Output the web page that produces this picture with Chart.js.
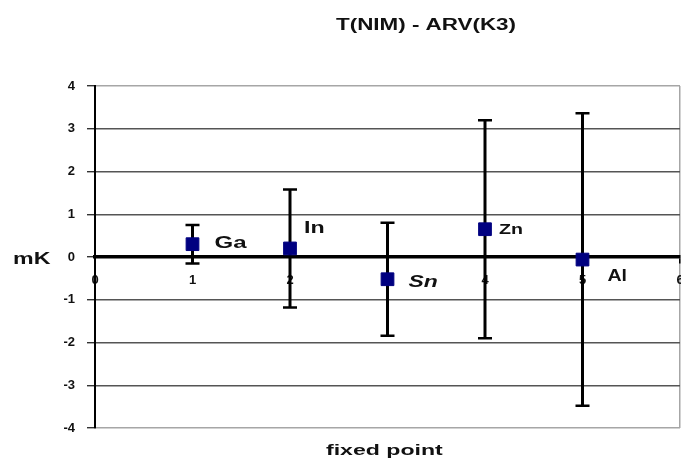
<!DOCTYPE html>
<html>
<head>
<meta charset="utf-8">
<script src="https://cdn.jsdelivr.net/npm/chart.js@4.4.1/dist/chart.umd.min.js"></script>
<style>
  html, body { margin: 0; padding: 0; background: #ffffff; }
  #wrap { width: 681px; height: 459px; position: relative; }
</style>
</head>
<body>
<div id="wrap"><canvas id="chart" width="681" height="459"></canvas></div>
<script>
// Fixed points, their position on the x axis, deviation and expanded uncertainty (mK)
const fixedPoints = ['Ga', 'In', 'Sn', 'Zn', 'Al'];
const pointIndex = [1, 2, 3, 4, 5];
const deviation = [0.30, 0.20, -0.52, 0.65, -0.06];
const uncertainty = [0.45, 1.38, 1.32, 2.55, 3.42];

const chartTitle = 'T(NIM) - ARV(K3)';
const xTitle = 'fixed point';
const yTitle = 'mK';

const FONT = "'Liberation Sans', Arial, sans-serif";
const INK = '#111111';

// How each point's name is drawn next to its marker
const nameStyle = {
  Ga: { dx: 22, dy: -1, size: 16, italic: false, sx: 1.5 },
  In: { dx: 14, dy: -20, size: 16, italic: false, sx: 1.45 },
  Sn: { dx: 21, dy: 3, size: 17, italic: true, sx: 1.35 },
  Zn: { dx: 14, dy: 1, size: 14, italic: false, sx: 1.4 },
  Al: { dx: 25, dy: 17, size: 17, italic: false, sx: 1.15 }
};

// Wide text, as in the original figure
function wideText(ctx, text, x, y, font, sx) {
  ctx.save();
  ctx.font = font;
  ctx.fillStyle = INK;
  ctx.textAlign = 'left';
  ctx.textBaseline = 'middle';
  ctx.translate(x, y);
  ctx.scale(sx, 1);
  ctx.fillText(text, 0, 0);
  ctx.restore();
}

const errorBars = {
  id: 'errorBars',
  beforeDatasetsDraw(chart) {
    const { ctx, scales: { x, y } } = chart;
    ctx.save();
    ctx.strokeStyle = '#000000';
    ctx.lineCap = 'butt';
    pointIndex.forEach((p, i) => {
      const px = x.getPixelForValue(p);
      const yTop = y.getPixelForValue(deviation[i] + uncertainty[i]);
      const yBot = y.getPixelForValue(deviation[i] - uncertainty[i]);
      ctx.lineWidth = 3;
      ctx.beginPath();
      ctx.moveTo(px, yTop);
      ctx.lineTo(px, yBot);
      ctx.stroke();
      ctx.lineWidth = 2.5;
      ctx.beginPath();
      ctx.moveTo(px - 7, yTop);
      ctx.lineTo(px + 7, yTop);
      ctx.moveTo(px - 7, yBot);
      ctx.lineTo(px + 7, yBot);
      ctx.stroke();
    });
    ctx.restore();
  }
};

const textLayer = {
  id: 'textLayer',
  afterDraw(chart) {
    const { ctx, scales: { x, y } } = chart;
    wideText(ctx, chartTitle, 336, 26, 'bold 16px ' + FONT, 1.4);
    wideText(ctx, xTitle, 326, 451, 'bold 14px ' + FONT, 1.65);
    wideText(ctx, yTitle, 13, y.getPixelForValue(0) + 3, 'bold 16px ' + FONT, 1.45);
    fixedPoints.forEach((name, i) => {
      const s = nameStyle[name];
      const px = x.getPixelForValue(pointIndex[i]);
      const py = y.getPixelForValue(deviation[i]);
      const font = (s.italic ? 'italic ' : '') + 'bold ' + s.size + 'px ' + FONT;
      wideText(ctx, name, px + s.dx, py + s.dy, font, s.sx);
    });
  }
};

new Chart(document.getElementById('chart'), {
  type: 'scatter',
  data: {
    datasets: [{
      label: chartTitle,
      data: pointIndex.map((p, i) => ({ x: p, y: deviation[i] })),
      pointStyle: 'rect',
      pointRadius: 9,
      pointHoverRadius: 9,
      backgroundColor: '#000080',
      borderColor: '#000080',
      borderWidth: 1
    }]
  },
  options: {
    responsive: false,
    animation: false,
    events: [],
    layout: { autoPadding: false, padding: { top: 86, bottom: 31, left: 0, right: 1 } },
    plugins: {
      legend: { display: false },
      title: { display: false },
      tooltip: { enabled: false }
    },
    scales: {
      x: {
        type: 'linear',
        position: { y: 0 },
        min: 0,
        max: 6,
        afterFit(scale) { scale.paddingLeft = 0; scale.paddingRight = 0; },
        ticks: {
          stepSize: 1,
          padding: 11,
          color: INK,
          font: { family: FONT, size: 13, weight: 'bold' }
        },
        grid: {
          drawOnChartArea: true,
          color: c => (c.tick && c.tick.value === 6) ? '#a6a6a6' : 'rgba(0,0,0,0)',
          lineWidth: 1.5,
          tickColor: '#000000',
          tickLength: 5
        },
        border: { display: true, color: '#000000', width: 3.5 }
      },
      y: {
        type: 'linear',
        min: -4,
        max: 4,
        afterFit(scale) { scale.width = 95; },
        ticks: {
          stepSize: 1,
          padding: 12,
          color: INK,
          font: { family: FONT, size: 13, weight: 'bold' }
        },
        grid: {
          color: c => {
            const v = c.tick ? c.tick.value : null;
            if (v === 0) return 'rgba(0,0,0,0)';
            if (v === 4 || v === -4) return '#a6a6a6';
            return '#555555';
          },
          lineWidth: 1.4,
          tickColor: '#333333',
          tickLength: 8
        },
        border: { display: true, color: '#000000', width: 2 }
      }
    }
  },
  plugins: [errorBars, textLayer]
});
</script>
</body>
</html>
